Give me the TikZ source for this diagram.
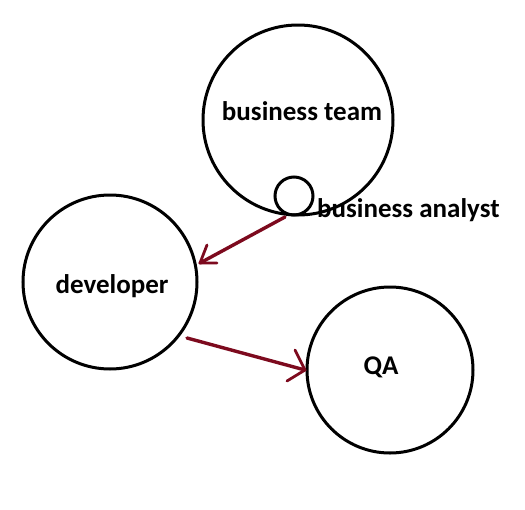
\documentclass[tikz,border=0pt]{standalone}
\usepackage{fontspec}
\setmainfont{Carlito}
\usetikzlibrary{calc}
\definecolor{arrowred}{RGB}{125,10,30}
\tikzset{
  ring/.style={circle, draw=black, line width=3pt, inner sep=0pt},
  lbl/.style={font=\fontsize{27}{31}\selectfont\bfseries, inner sep=0pt, anchor=base},
  conn/.style={draw=arrowred, line width=3.4pt, line cap=round, line join=round},
}
\begin{document}
\begin{tikzpicture}[x=1pt,y=-1pt]
\useasboundingbox[fill=white] (0,0) rectangle (525,509);
% circles
\node[ring, minimum size=190pt] (bt) at (298,120) {};
\node[ring, minimum size=38pt] (ba) at (294,196) {};
\node[ring, minimum size=174pt] (dev) at (110,282) {};
\node[ring, minimum size=166pt] (qa) at (390,370) {};
% labels
\node[lbl] (btl) at (302,120) {business team};
\node[lbl, anchor=base west] (bal) at (317,217) {business analyst};
\node[lbl] (devl) at (112,293) {developer};
\node[lbl] (qal) at (381,374) {QA};
% connector ends
\coordinate (a1s) at (285,217);
\coordinate (a1t) at (200,263);
\coordinate (a2s) at (187,338);
\coordinate (a2t) at (305,370);
% connectors
\draw[conn] (a1s) -- (a1t);
\draw[conn, line width=2.8pt] ($(a1t)+(7,-18)$) -- (a1t) -- ($(a1t)+(17,0)$);
\draw[conn] (a2s) -- (a2t);
\draw[conn, line width=2.8pt] ($(a2t)+(-10,-20)$) -- (a2t) -- ($(a2t)+(-18,11)$);
\end{tikzpicture}
\end{document}
